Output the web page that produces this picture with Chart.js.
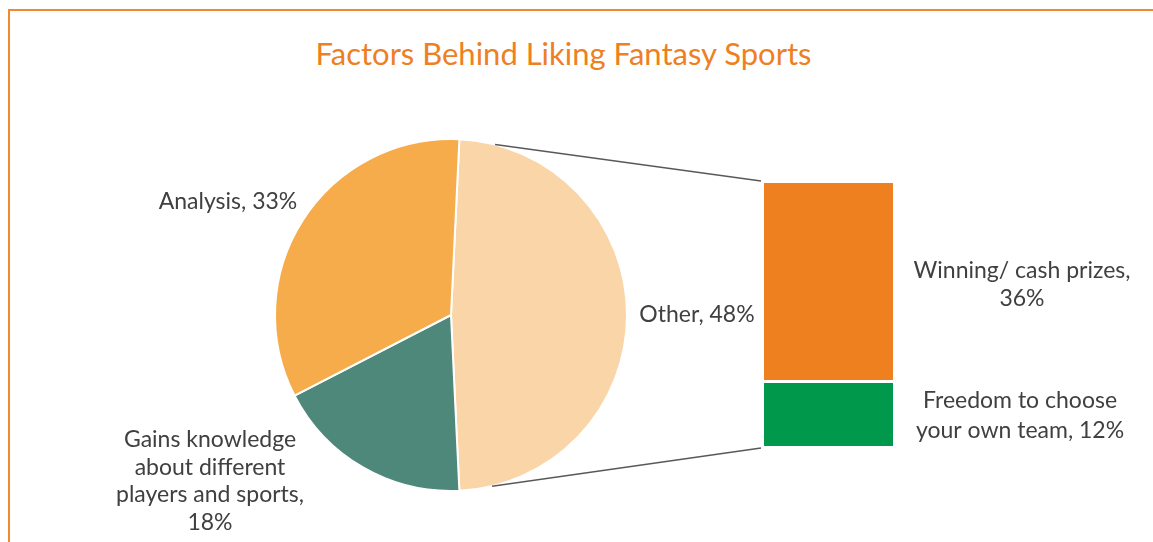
<!DOCTYPE html>
<html>
<head>
<meta charset="utf-8">
<script src="https://cdn.jsdelivr.net/npm/chart.js@4"></script>
<style>
    body { margin: 0; background: #fff; }
    #wrap { position: relative; width: 1153px; height: 542px; overflow: hidden; }
    #rahmen {
        position: absolute; left: 8px; top: 9px; width: 1200px; height: 600px;
        border-top: 2px solid #F08A2E; border-left: 2px solid #F08A2E;
    }
    #titel {
        position: absolute; left: 0; width: 1127px; top: 34px; text-align: center;
        font-family: Lato, sans-serif; font-size: 31px; color: #EE7F22;
    }
    canvas { position: absolute; left: 0; top: 0; }
</style>
</head>
<body>
<div id="wrap">
    <div id="rahmen"></div>
    <div id="titel">Factors Behind Liking Fantasy Sports</div>
    <canvas id="pie-chart" width="1153" height="542"></canvas>
    <canvas id="bar-chart" width="1153" height="542"></canvas>
</div>
<script>
// pie slices (clockwise from the top right)
const pieLabels = ['Other', 'Gains knowledge about different players and sports', 'Analysis'];
const pieValues = [48, 18, 33];
const pieColors = ['#FAD5A7', '#4E887B', '#F7AC4B'];

// split of "Other"
const barLabels = ['Freedom to choose your own team', 'Winning/ cash prizes'];
const barValues = [12, 36];
const barColors = ['#00984A', '#EE801F'];

const textFont = '23px Lato, sans-serif';
const textColor = '#404040';

function schreibe(ctx, lines, x, y, lh) {
    ctx.save();
    ctx.font = textFont;
    ctx.fillStyle = textColor;
    ctx.textAlign = 'center';
    ctx.textBaseline = 'middle';
    for (let i = 0; i < lines.length; i++) {
        ctx.fillText(lines[i], x, y + i * lh);
    }
    ctx.restore();
}

// "Other" slice centred on the right side
const otherAngle = pieValues[0] / pieValues.reduce((a, b) => a + b, 0) * 360;

const pieLabelPlugin = {
    id: 'pieLabels',
    afterDraw(chart) {
        const arc = chart.getDatasetMeta(0).data[0];
        const cx = arc.x, cy = arc.y;
        const ctx = chart.ctx;
        schreibe(ctx, [pieLabels[0] + ', ' + pieValues[0] + '%'], cx + 246, cy, 27);
        schreibe(ctx, ['Gains knowledge', 'about different', 'players and sports,', pieValues[1] + '%'], cx - 241, cy + 125, 27.5);
        schreibe(ctx, [pieLabels[2] + ', ' + pieValues[2] + '%'], cx - 223, cy - 113, 27);
    }
};

const pieChart = new Chart(document.getElementById('pie-chart').getContext('2d'), {
    type: 'pie',
    data: {
        labels: pieLabels,
        datasets: [{
            data: pieValues,
            backgroundColor: pieColors,
            borderColor: '#ffffff',
            borderWidth: 2
        }]
    },
    options: {
        responsive: false,
        animation: false,
        rotation: 90 - otherAngle / 2,
        layout: { padding: { top: 138, bottom: 50, left: 274, right: 525 } },
        plugins: { legend: { display: false }, tooltip: { enabled: false } }
    },
    plugins: [pieLabelPlugin]
});

const connectorPlugin = {
    id: 'connector',
    afterDraw(chart) {
        const arc = pieChart.getDatasetMeta(0).data[0];
        const cx = arc.x, cy = arc.y, r = arc.outerRadius;
        const oben = chart.getDatasetMeta(1).data[0];
        const unten = chart.getDatasetMeta(0).data[0];
        const links = oben.x - oben.width / 2;
        const ctx = chart.ctx;
        const a1 = 14.5 * Math.PI / 180, a2 = 166.5 * Math.PI / 180;
        ctx.save();
        ctx.strokeStyle = '#595959';
        ctx.lineWidth = 1.5;
        ctx.beginPath();
        ctx.moveTo(cx + r * Math.sin(a1), cy - r * Math.cos(a1));
        ctx.lineTo(links - 3, oben.y - 2);
        ctx.moveTo(cx + r * Math.sin(a2), cy - r * Math.cos(a2));
        ctx.lineTo(links - 3, unten.base + 2);
        ctx.stroke();
        ctx.restore();

        const rechts = oben.x + oben.width / 2;
        schreibe(ctx, ['Winning/ cash prizes,', barValues[1] + '%'], rechts + 129, (oben.y + oben.base) / 2 - 11, 28);
        schreibe(ctx, ['Freedom to choose', 'your own team, ' + barValues[0] + '%'], rechts + 127, (unten.y + unten.base) / 2 - 13, 30);
    }
};

new Chart(document.getElementById('bar-chart').getContext('2d'), {
    type: 'bar',
    data: {
        labels: [''],
        datasets: barLabels.map((l, i) => ({
            label: l,
            data: [barValues[i]],
            backgroundColor: barColors[i],
            borderColor: '#ffffff',
            borderWidth: i === 0 ? { top: 3, left: 0, right: 0, bottom: 0 } : 0,
            borderSkipped: false,
            barPercentage: 1,
            categoryPercentage: 1
        }))
    },
    options: {
        responsive: false,
        animation: false,
        layout: { padding: { top: 183, bottom: 96, left: 764, right: 260 } },
        scales: {
            x: { stacked: true, display: false },
            y: { stacked: true, display: false, min: 0, max: barValues[0] + barValues[1] }
        },
        plugins: { legend: { display: false }, tooltip: { enabled: false } }
    },
    plugins: [connectorPlugin]
});
</script>
</body>
</html>
